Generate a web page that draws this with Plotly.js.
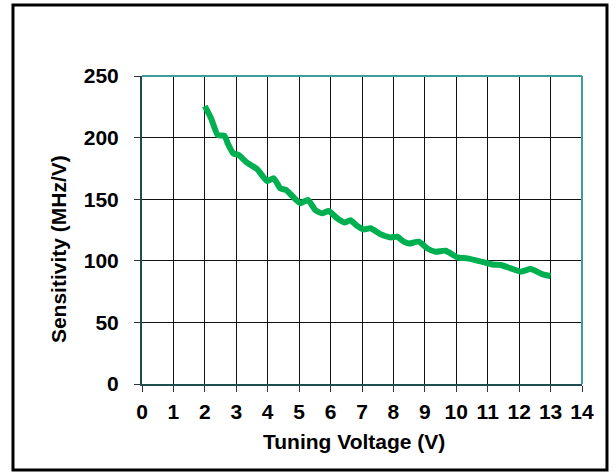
<!DOCTYPE html>
<html>
<head>
<meta charset="utf-8">
<script src="https://cdn.plot.ly/plotly-3.0.1.min.js"></script>
<style>html,body{margin:0;padding:0;background:#fff;}#chart{width:616px;height:475px;}</style>
</head>
<body>
<div id="chart"></div>
<script>
// Tuning voltage (V)
const voltage = [2.0, 2.2, 2.41, 2.62, 2.75, 2.91, 3.07, 3.34, 3.66, 3.98, 4.19, 4.40, 4.58, 4.90, 5.04,
  5.28, 5.52, 5.73, 5.94, 6.21, 6.45, 6.63, 6.85, 7.06, 7.27, 7.59, 7.91, 8.12, 8.33,
  8.49, 8.81, 9.08, 9.34, 9.66, 10.03, 10.35, 10.73, 11.15, 11.42, 11.73, 12.05, 12.37, 12.75, 13.0];
// Sensitivity (MHz/V)
const sensitivity = [225.5, 215.5, 202, 201.5, 194, 187, 186, 179.6, 174.5, 164.8, 167, 158.8, 157.5, 149.5, 146.7,
  149.4, 141, 138.5, 140.4, 134.5, 131, 133, 128.2, 125.5, 126.4, 121.5, 119, 119.6, 115.5,
  114, 115.5, 110, 107.4, 108.2, 102.8, 102, 99.8, 97, 96.6, 93.9, 91.2, 93.3, 89, 87.7];
const xTicks = [0,1,2,3,4,5,6,7,8,9,10,11,12,13,14];
const yTicks = [0,50,100,150,200,250];
const xTitle = 'Tuning Voltage (V)';
const yTitle = 'Sensitivity (MHz/V)';

const font = {family: 'Liberation Sans, Arial, sans-serif', size: 21, weight: 'bold', color: '#000'};
const titleFont = {family: 'Liberation Sans, Arial, sans-serif', size: 21, weight: 'bold', color: '#000'};
const darkTeal = '#1e4d4d';
const lightTeal = '#3f9c9c';

const trace = {
  x: voltage, y: sensitivity, type: 'scatter', mode: 'lines',
  line: {color: '#00b050', width: 6, shape: 'spline', smoothing: 0.5},
  hoverinfo: 'x+y'
};

const layout = {
  width: 616, height: 475,
  margin: {l: 142, r: 34, t: 76, b: 91, pad: 0},
  paper_bgcolor: '#fff', plot_bgcolor: '#fff',
  showlegend: false,
  font: font,
  xaxis: {
    range: [0, 14], tickvals: xTicks, ticktext: xTicks.map(String),
    showgrid: true, gridcolor: '#111', gridwidth: 1,
    zeroline: false, showline: true, linecolor: darkTeal, linewidth: 2,
    ticks: 'outside', ticklen: 6, tickcolor: '#333', tickwidth: 1,
    ticklabelstandoff: 2, tickfont: font, fixedrange: true
  },
  yaxis: {
    range: [0, 250], tickvals: yTicks, ticktext: yTicks.map(String),
    showgrid: true, gridcolor: '#111', gridwidth: 1,
    zeroline: false, showline: true, linecolor: darkTeal, linewidth: 2,
    ticks: 'outside', ticklen: 6, tickcolor: '#333', tickwidth: 1,
    ticklabelstandoff: 11, tickfont: font, fixedrange: true
  },
  shapes: [
    {type: 'line', xref: 'paper', yref: 'paper', x0: 0, x1: 1, y0: 1, y1: 1, line: {color: lightTeal, width: 2}},
    {type: 'line', xref: 'paper', yref: 'paper', x0: 1, x1: 1, y0: 0, y1: 1, line: {color: lightTeal, width: 2}},
    {type: 'rect', xref: 'paper', yref: 'paper', x0: -0.2932, x1: 1.0568, y0: -0.2792, y1: 1.2305,
     line: {color: '#000', width: 3}, fillcolor: 'rgba(0,0,0,0)', layer: 'below'}
  ],
  annotations: [
    {text: xTitle, xref: 'paper', yref: 'paper', x: 0.4807, y: -0.1883, showarrow: false,
     xanchor: 'center', yanchor: 'middle', font: titleFont},
    {text: yTitle, xref: 'paper', yref: 'paper', x: -0.1909, y: 0.438, showarrow: false,
     xanchor: 'center', yanchor: 'middle', textangle: -90, font: titleFont}
  ]
};

Plotly.newPlot('chart', [trace], layout, {displayModeBar: false, staticPlot: true});
</script>
</body>
</html>
